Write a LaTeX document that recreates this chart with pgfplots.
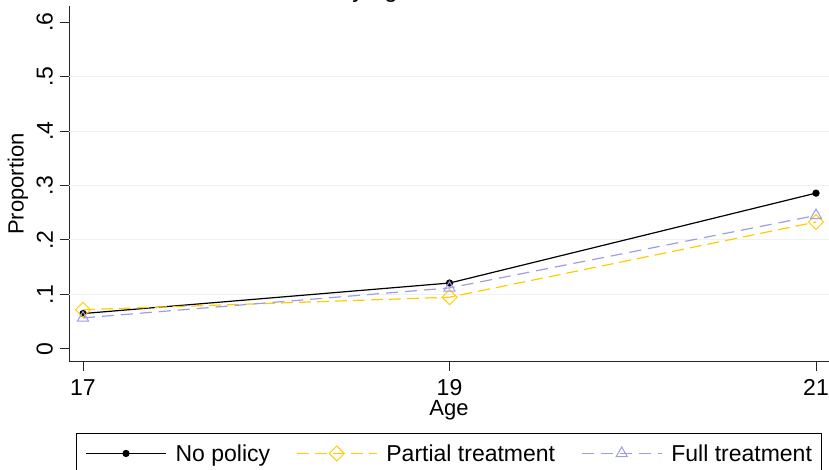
\documentclass[border=0pt]{standalone}
\usepackage{fontspec}
\setmainfont{Liberation Sans}
\usepackage{pgfplots}
\pgfplotsset{compat=1.18}
\definecolor{gridc}{RGB}{234,242,243}
\definecolor{yel}{RGB}{255,204,0}
\definecolor{lav}{RGB}{160,156,230}
\begin{document}
\begin{tikzpicture}
\path[use as bounding box, clip] (0pt,0pt) rectangle (829pt,470pt);
\node[anchor=base, font=\fontsize{24}{28}\selectfont, inner sep=0pt] at (375pt,472pt) {by age};
\begin{axis}[
 at={(69pt,108pt)}, anchor=south west,
 scale only axis, width=761pt, height=356pt,
 xmin=16.9236, xmax=21.0764, ymin=-0.0239, ymax=0.6294,
 axis lines=left, axis line style={-, line width=1pt, black!85},
 tick align=outside, major tick length=9pt,
 tick style={line width=1pt, black!85},
 xtick={17,19,21},
 ytick={0,0.1,0.2,0.3,0.4,0.5,0.6},
 yticklabels={0,.1,.2,.3,.4,.5,.6},
 /pgf/number format/assume math mode=true,
 ticklabel style={font=\fontsize{23}{27}\selectfont},
 xticklabel style={inner sep=8pt},
 yticklabel style={rotate=90, anchor=south, inner sep=7pt},
 extra y ticks={0.1,0.2,0.3,0.4,0.5},
 extra y tick labels={},
 extra y tick style={grid=major, major tick length=0pt},
 major grid style={gridc, line width=1pt},
 xlabel={Age}, ylabel={Proportion},
 label style={font=\fontsize{22}{26}\selectfont},
 xlabel style={at={(axis description cs:0.4993,-0.150)}, anchor=base, inner sep=0pt},
 ylabel style={at={(axis description cs:-0.0670,0.5)}, anchor=center, inner sep=0pt},
 clip=false,
 legend columns=3,
 legend image code/.code={\draw[mark repeat=2,mark phase=2] plot coordinates {(0pt,0pt) (40pt,0pt) (80pt,0pt)};},
 legend style={at={(axis description cs:0.0092,-0.1994)}, anchor=north west, draw=black, line width=0.8pt,
   font=\fontsize{23}{27}\selectfont, inner xsep=9pt, inner ysep=11pt,
   /tikz/every even column/.append style={column sep=26pt},
   /tikz/every odd column/.append style={column sep=9pt},
   nodes={inner sep=0pt, anchor=west}},
]
\addplot[black, line width=1.2pt, mark=*, mark size=3pt] coordinates {(17,0.065) (19,0.121) (21,0.286)};
\addlegendentry{No policy}
\addplot[yel, line width=1.2pt, dash pattern=on 12pt off 6pt, mark=square, mark size=5.3pt, mark options={solid, rotate=45, line width=1pt}] coordinates {(17,0.072) (19,0.095) (21,0.233)};
\addlegendentry{Partial treatment}
\addplot[lav, line width=1.2pt, dash pattern=on 12pt off 7pt, mark=triangle, mark size=6.5pt, mark options={solid, line width=1pt}] coordinates {(17,0.057) (19,0.112) (21,0.245)};
\addlegendentry{Full treatment}
\end{axis}
\end{tikzpicture}
\end{document}
